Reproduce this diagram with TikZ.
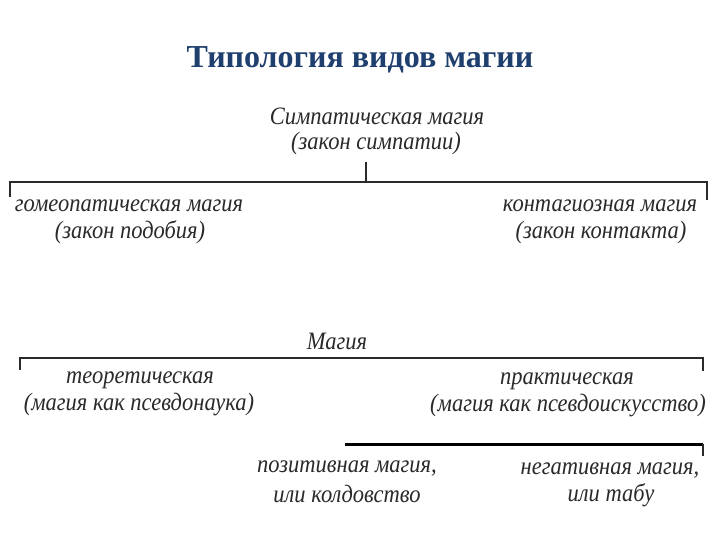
\documentclass[tikz,border=0pt]{standalone}
\usepackage{fontspec}
\setmainfont{Liberation Serif}
\newfontfamily\diagfont[FakeStretch=0.9]{Liberation Serif}
\usepackage{xcolor}
\definecolor{titleblue}{HTML}{1F3F6E}
\definecolor{inkgray}{HTML}{2A2A2A}
\usetikzlibrary{positioning}
\tikzset{
  term/.style={inner sep=0pt, font=\diagfont\itshape\fontsize{25}{29}\selectfont, text=inkgray, align=center},
  bar/.style={inkgray, line width=1.3pt},
  thickbar/.style={black, line width=3pt}
}
\begin{document}
\begin{tikzpicture}[x=1pt, y=-1pt]
  \useasboundingbox (0,0) rectangle (720,540);
  \fill[white] (0,0) rectangle (720,540);

  % Title
  \node[font=\bfseries\fontsize{32}{36}\selectfont, text=titleblue] (title) at (360,60) {Типология видов магии};

  % Sympathetic magic
  \node[term] (sym) at (377,116) {Симпатическая магия};
  \node[term] (symlaw) at (376,143) {(закон симпатии)};
  \coordinate (symstem) at (366,182);
  \coordinate (symL) at (10,182);
  \coordinate (symR) at (707,182);
  \coordinate (symLt) at (10,197);
  \coordinate (symRt) at (707,200);
  \draw[bar] (symlaw.south -| symstem) ++(0,7) -- (symstem);
  \draw[bar] (symLt) -- (symL) -- (symR) -- (symRt);
  \node[term] (homeo) at (129,206) {гомеопатическая магия};
  \node[term] (homeolaw) at (130,232) {(закон подобия)};
  \node[term] (conta) at (600,206) {контагиозная магия};
  \node[term] (contalaw) at (601,232) {(закон контакта)};

  % Magic
  \node[term] (mag) at (337,341) {Магия};
  \coordinate (magL) at (20,358);
  \coordinate (magR) at (703,358);
  \coordinate (magLt) at (20,370);
  \coordinate (magRt) at (703,371);
  \draw[bar] (magLt) -- (magL) -- (magR) -- (magRt);
  \node[term] (theo) at (140,380) {теоретическая};
  \node[term] (theonote) at (139,405) {(магия как псевдонаука)};
  \node[term] (prac) at (567,381) {практическая};
  \node[term] (pracnote) at (568,406) {(магия как псевдоискусство)};

  % Practical magic
  \coordinate (pracL) at (345,444);
  \coordinate (pracR) at (703,444);
  \coordinate (pracRt) at (703,456);
  \draw[thickbar] (pracL) -- (pracR);
  \draw[bar] (pracR) -- (pracRt);
  \node[term] (posi) at (347,469) {позитивная магия,};
  \node[term] (posinote) at (347,494) {или колдовство};
  \node[term] (nega) at (610,471) {негативная магия,};
  \node[term] (neganote) at (611,495) {или табу};
\end{tikzpicture}
\end{document}
